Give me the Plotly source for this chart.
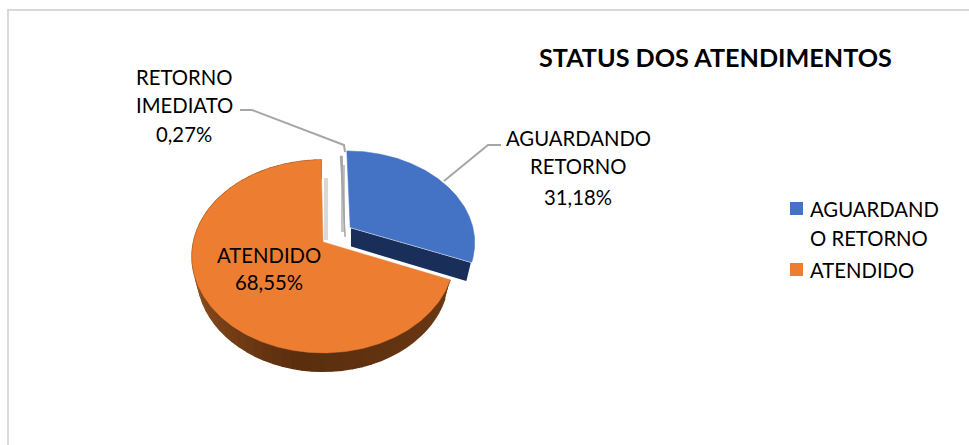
import numpy as np
import plotly.graph_objects as go

TITLE = "STATUS DOS ATENDIMENTOS"
categories = ["AGUARDANDO RETORNO", "ATENDIDO", "RETORNO IMEDIATO"]
values = [31.18, 68.55, 0.27]
colors = ["#4472C4", "#ED7D31", "#A5A5A5"]
blue_wall = "#1A2E5A"
label_lines = [["AGUARDANDO", "RETORNO"], ["ATENDIDO"], ["RETORNO", "IMEDIATO"]]
legend_lines = [["AGUARDAND", "O RETORNO"], ["ATENDIDO"]]

W, H = 969, 445
FONT = "Lato, Carlito, Calibri, sans-serif"
# perspective of the tilted disc and its pixel placement
K = 0.15
SX, SY = 129.5, 94.3
CX, CY = 323, 242
DEPTH = 0.195
BLUE_DEPTH = 0.21
FLOOR_SCALE = 0.96   # the lower face of the disc is slightly narrower
offsets = [(0.215, 0.16), (0, 0), (0.172, 0.055)]
radii = [0.97, 1.0, 1.0]


def project(u, v):
    u, v = np.asarray(u, float), np.asarray(v, float)
    s = 1 + K * v
    return u / s, v / s


def arc(a0, a1, off, r):
    t = np.radians(np.linspace(a0, a1, max(3, int(abs(a1 - a0) * 2))))
    return r * np.sin(t) + off[0], r * np.cos(t) + off[1]


def wedge(a0, a1, off, r=1.0):
    u, v = arc(a0, a1, off, r)
    return project(np.r_[off[0], u, off[0]], np.r_[off[1], v, off[1]])


def poly_trace(x, y, color, line=None, width=1.5):
    return go.Scatter(x=x, y=y, mode="lines", fill="toself", fillcolor=color,
                      line=dict(color=line or color, width=width),
                      hoverinfo="skip", showlegend=False)


def wall_bands(a0, a1, off, color_at, step=4):
    out = []
    edges = np.arange(a0, a1 + step, step)
    edges[-1] = a1
    for p, q in zip(edges[:-1], edges[1:]):
        if p >= a1:
            continue
        x, y = wedge(p, q, off)
        x, y = x[1:-1], y[1:-1]
        out.append(poly_trace(np.r_[x, (x * FLOOR_SCALE)[::-1]], np.r_[y, y[::-1] - DEPTH],
                              color_at(0.5 * (p + q))))
    return out


def orange_wall(a):
    stops = [100, 130, 190, 240, 275]
    r = np.interp(a, stops, [112, 104, 90, 132, 168])
    g = np.interp(a, stops, [60, 54, 46, 72, 94])
    b = np.interp(a, stops, [20, 18, 14, 26, 36])
    return f"rgb({r:.0f},{g:.0f},{b:.0f})"


total = sum(values)
ends = np.cumsum(values) / total * 360
starts = np.r_[0, ends[:-1]]

fig = go.Figure()
# orange slice
fig.add_traces(wall_bands(starts[1], ends[1], offsets[1], orange_wall))
x, y = wedge(starts[1], ends[1], offsets[1], radii[1])
fig.add_trace(poly_trace(x, y, colors[1], width=0.5))
# blue slice: radial wall, then top
x, y = wedge(starts[0], ends[0], offsets[0], radii[0])
xa, ya, xc, yc = x[0], y[0], x[-2], y[-2]
xb = xa + (xc - xa) * FLOOR_SCALE
fig.add_trace(poly_trace([xa, xc, xb, xa, xa], [ya, yc, yc - BLUE_DEPTH, ya - BLUE_DEPTH, ya],
                         blue_wall, "#FFFFFF", 1.5))
fig.add_trace(poly_trace(x, y, colors[0], width=0.5))
# sliver
x, y = wedge(starts[2], ends[2], offsets[2], radii[2])
fig.add_trace(poly_trace(x, y, colors[2], colors[2], 1))


def box(x0, y0, x1, y1, color, opacity=1.0, layer="below"):
    return dict(type="rect", xref="paper", yref="paper", x0=x0 / W, x1=x1 / W,
                y0=1 - y0 / H, y1=1 - y1 / H, fillcolor=color, line_width=0,
                opacity=opacity, layer=layer)


def path(points, color="#A6A6A6", width=2):
    d = "M" + " L".join(f"{px / W:.5f},{1 - py / H:.5f}" for px, py in points)
    return dict(type="path", xref="paper", yref="paper", path=d, line=dict(color=color, width=width), layer="above")


shapes = [
    box(7, 9, 969, 11, "#D9D9D9"),
    box(7, 9, 9, 445, "#D9D9D9"),
    box(324, 178, 328, 240, "#C9C9C9", 0.7),
    box(341, 165, 345, 232, "#B5B5B5", 0.8),
    path([(240, 110), (252, 110), (344, 145), (345, 152)]),
    path([(444, 181), (488, 145), (501, 145)]),
    box(790, 202, 803, 215, colors[0], layer="above"),
    box(790, 263, 803, 276, colors[1], layer="above"),
]


def pct(v):
    return f"{v:.2f}".replace(".", ",") + "%"


def note(text, px, py, size=20.3, bold=False, anchor="center"):
    return dict(text=f"<b>{text}</b>" if bold else text, x=px / W, y=1 - py / H, xref="paper", yref="paper",
                showarrow=False, xanchor=anchor, yanchor="middle", align=anchor,
                font=dict(family=FONT, size=size, color="#000000"))


def stacked(lines, px, ys):
    return [note(t, px, py) for t, py in zip(lines, ys)]


annotations = [note(TITLE, 715, 57, 25.2, True)]
annotations += stacked(label_lines[2] + [pct(values[2])], 184, [77, 105, 134])
annotations += stacked(label_lines[0] + [pct(values[0])], 578, [138, 166, 197])
annotations += stacked(label_lines[1] + [pct(values[1])], 269, [255, 282])
annotations += [note(legend_lines[0][0], 808, 209, anchor="left"),
                note(legend_lines[0][1], 808, 238, anchor="left"),
                note(legend_lines[1][0], 808, 270, anchor="left")]

fig.update_layout(
    width=W, height=H, margin=dict(l=0, r=0, t=0, b=0),
    paper_bgcolor="#FFFFFF", plot_bgcolor="#FFFFFF", showlegend=False,
    xaxis=dict(range=[-CX / SX, (W - CX) / SX], visible=False, fixedrange=True),
    yaxis=dict(range=[(CY - H) / SY, CY / SY], visible=False, fixedrange=True),
    shapes=shapes, annotations=annotations,
)
fig.write_html("out.html", config=dict(displayModeBar=False),
               post_script="document.body.style.margin='0';document.body.style.overflow='hidden';")
